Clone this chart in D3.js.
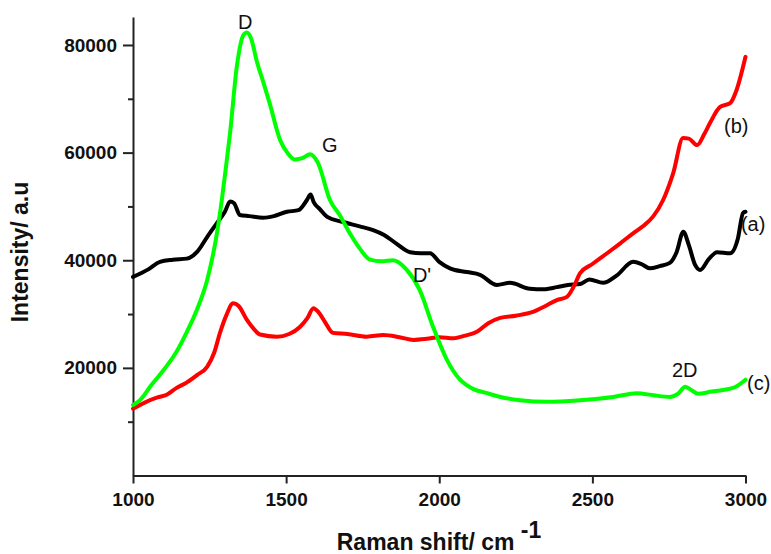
<!DOCTYPE html>
<html>
<head>
<meta charset="utf-8">
<script src="https://cdn.jsdelivr.net/npm/d3@7"></script>
<style>
  body { margin: 0; background: #fff; }
  svg { display: block; }
  text { font-family: "Liberation Sans", Arial, sans-serif; }
</style>
</head>
<body>
<svg id="chart" width="771" height="554"></svg>
<script>
// Raman shift (cm-1) / intensity pairs
const specA = [ // black (a)
  [1000, 36900], [1050, 38300], [1088, 39700], [1130, 40100], [1176, 40300], [1210, 41600],
  [1242, 44300], [1274, 46900], [1300, 49000], [1317, 50900], [1330, 50600], [1349, 48400],
  [1380, 48200], [1425, 47900], [1460, 48200], [1503, 49000], [1540, 49300], [1568, 51200],
  [1580, 52200], [1590, 50800], [1610, 49500], [1633, 48100], [1686, 47100], [1740, 46300],
  [1784, 45600], [1820, 44700], [1860, 43100], [1905, 41500], [1940, 41300], [1970, 41300],
  [2000, 39700], [2035, 38500], [2090, 37800], [2133, 37300], [2188, 35400], [2231, 35800],
  [2296, 34700], [2340, 34600], [2384, 35000], [2420, 35400], [2460, 35600], [2490, 36400],
  [2535, 35800], [2580, 37200], [2633, 39700], [2660, 39300], [2688, 38500], [2720, 38900],
  [2753, 39500], [2775, 41500], [2797, 45300], [2815, 42800], [2835, 39200], [2852, 38200],
  [2880, 40200], [2907, 41500], [2950, 41300], [2975, 44000], [2992, 48800], [3000, 49000]
];
const specB = [ // red (b)
  [1000, 12400], [1040, 13600], [1080, 14500], [1110, 15000], [1140, 16200], [1176, 17300],
  [1210, 18700], [1242, 20200], [1265, 22800], [1284, 26500], [1305, 29800], [1327, 32000],
  [1345, 31500], [1372, 28900], [1395, 27200], [1415, 26200], [1470, 25800], [1510, 26300],
  [1545, 27600], [1570, 29300], [1589, 31100], [1605, 30400], [1625, 28700], [1653, 26500],
  [1700, 26300], [1763, 25800], [1818, 26100], [1870, 25700], [1916, 25200], [1960, 25400],
  [2000, 25700], [2046, 25500], [2085, 26000], [2123, 26700], [2160, 28300], [2199, 29300],
  [2250, 29700], [2306, 30400], [2350, 31600], [2384, 32600], [2417, 33200], [2440, 35200],
  [2460, 37600], [2500, 39300], [2548, 41300], [2590, 43100], [2633, 45000], [2665, 46300],
  [2698, 48100], [2731, 51200], [2764, 56200], [2796, 62700], [2815, 62600], [2842, 61400],
  [2865, 63400], [2884, 65500], [2917, 68500], [2950, 69200], [2970, 71500], [3000, 77800]
];
const specC = [ // green (c)
  [1000, 13100], [1023, 14000], [1060, 16800], [1100, 19600], [1140, 22800], [1176, 26700],
  [1210, 31000], [1242, 36300], [1274, 45000], [1290, 51200], [1305, 58000], [1317, 63700],
  [1339, 76000], [1360, 81800], [1372, 82300], [1385, 81300], [1405, 76800], [1425, 73200],
  [1447, 69000], [1480, 62400], [1505, 59900], [1529, 58700], [1555, 59000], [1578, 59700],
  [1604, 58100], [1643, 51200], [1675, 48400], [1708, 45000], [1740, 42200], [1774, 40100],
  [1810, 39800], [1849, 40000], [1894, 38200], [1936, 34500], [1980, 27600], [2025, 21500],
  [2068, 17800], [2110, 16100], [2156, 15300], [2200, 14600], [2264, 14000], [2352, 13700],
  [2460, 14000], [2568, 14600], [2646, 15300], [2700, 14900], [2753, 14600], [2780, 15200],
  [2803, 16500], [2825, 15800], [2845, 15200], [2890, 15600], [2927, 15900], [2965, 16400],
  [3000, 17800]
];

const xTicks = [1000, 1500, 2000, 2500, 3000];
const yTicks = [20000, 40000, 60000, 80000];
const yMinor = [10000, 30000, 50000, 70000];

// peak / curve labels: left edge and baseline in data units
const labels = [
  {text: "D", x: 1343, y: 83000},
  {text: "G", x: 1617, y: 60100},
  {text: "D'", x: 1914, y: 35950},
  {text: "(b)", x: 2930, y: 63600},
  {text: "(a)", x: 2985, y: 45400},
  {text: "2D", x: 2760, y: 18300},
  {text: "(c)", x: 3005, y: 15900}
];

const svg = d3.select("#chart");
const x = d3.scaleLinear().domain([1000, 3000]).range([133, 745.5]);
const y = d3.scaleLinear().domain([0, 85200]).range([475.5, 17]);

const bodyFont = '"Liberation Sans", Arial, sans-serif';

svg.append("g")
  .attr("transform", "translate(0,475.5)")
  .call(d3.axisBottom(x).tickValues(xTicks).tickSize(8).tickSizeOuter(0).tickPadding(9).tickFormat(d3.format("d")));

svg.append("g")
  .attr("transform", "translate(133,0)")
  .call(d3.axisLeft(y).tickValues(yTicks).tickSize(10).tickSizeOuter(0).tickPadding(6).tickFormat(d3.format("d")));

svg.append("g")
  .attr("transform", "translate(133,0)")
  .call(d3.axisLeft(y).tickValues(yMinor).tickSize(5).tickSizeOuter(0).tickFormat(""))
  .select(".domain").remove();

svg.selectAll(".domain, .tick line")
  .attr("stroke", "#222")
  .attr("stroke-width", 2);

svg.selectAll(".tick text")
  .attr("font-family", bodyFont)
  .attr("font-size", 19)
  .attr("font-weight", "bold")
  .attr("fill", "#111");

const line = d3.line()
  .x(d => x(d[0]))
  .y(d => y(d[1]))
  .curve(d3.curveMonotoneX);

const series = [
  {data: specA, color: "#000000"},
  {data: specB, color: "#ff0000"},
  {data: specC, color: "#00ff00"}
];

svg.selectAll(".spec")
  .data(series)
  .enter().append("path")
  .attr("class", "spec")
  .attr("d", d => line(d.data))
  .attr("fill", "none")
  .attr("stroke", d => d.color)
  .attr("stroke-width", 4)
  .attr("stroke-linejoin", "round")
  .attr("stroke-linecap", "round");

svg.selectAll(".peak")
  .data(labels)
  .enter().append("text")
  .attr("class", "peak")
  .attr("x", d => x(d.x))
  .attr("y", d => y(d.y))
  .attr("font-family", bodyFont)
  .attr("font-size", 20)
  .attr("fill", "#111")
  .text(d => d.text);

// axis titles
const xTitle = svg.append("text")
  .attr("x", 439)
  .attr("y", 550)
  .attr("text-anchor", "middle")
  .attr("font-family", bodyFont)
  .attr("font-size", 23)
  .attr("font-weight", "bold")
  .attr("fill", "#111");
xTitle.append("tspan").text("Raman shift/ cm ");
xTitle.append("tspan").attr("dy", -12).text("-1");

svg.append("text")
  .attr("transform", "translate(28,252) rotate(-90)")
  .attr("text-anchor", "middle")
  .attr("font-family", bodyFont)
  .attr("font-size", 23)
  .attr("font-weight", "bold")
  .attr("fill", "#111")
  .text("Intensity/ a.u");
</script>
</body>
</html>
